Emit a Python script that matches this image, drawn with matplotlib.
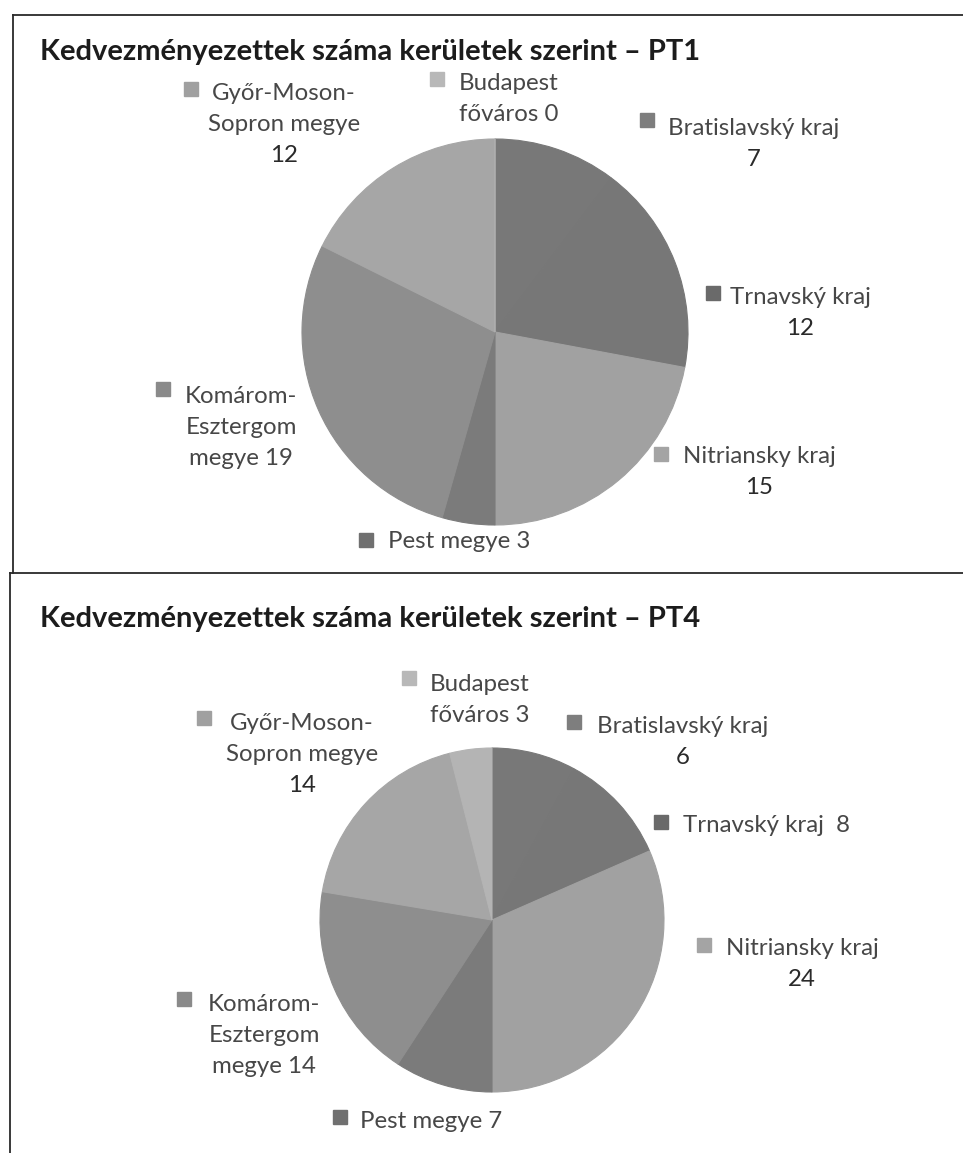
import matplotlib
matplotlib.use("Agg")
import matplotlib.pyplot as plt
from matplotlib.patches import Rectangle
from matplotlib.lines import Line2D

# data
regions = ["Bratislavský kraj", "Trnavský kraj", "Nitriansky kraj", "Pest megye",
           "Komárom-Esztergom megye", "Győr-Moson-Sopron megye", "Budapest főváros"]
pt1_values = [7, 12, 15, 3, 19, 12, 0]
pt4_values = [6, 8, 24, 7, 14, 14, 3]
titles = ["Kedvezményezettek száma kerületek szerint – PT1",
          "Kedvezményezettek száma kerületek szerint – PT4"]

slice_colors = ["#787878", "#777777", "#a1a1a1", "#7b7b7b", "#8e8e8e", "#a6a6a6", "#b4b4b4"]
key_colors = ["#7e7e7e", "#6a6a6a", "#a4a4a4", "#707070", "#8a8a8a", "#a0a0a0", "#b8b8b8"]

W, H = 963, 1153
plt.rcParams["font.family"] = ["Lato", "DejaVu Sans"]
fig = plt.figure(figsize=(W / 100, H / 100), dpi=100)


def fx(x):
    return x / W


def fy(y):
    return 1 - y / H


# label layout: (lines, square centre x, square centre y, text centre x, first baseline y)
layout1 = [
    (["Bratislavský kraj", "{}"], 647, 120, 754, 135),
    (["Trnavský kraj", "{}"], 713, 293, 800, 304),
    (["Nitriansky kraj", "{}"], 661, 454, 759, 463),
    (["Pest megye {}"], 366, 540, 459, 548),
    (["Komárom-", "Esztergom", "megye {}"], 163, 389, 241, 403),
    (["Győr-Moson-", "Sopron megye", "{}"], 191, 89, 284, 100),
    (["Budapest", "főváros {}"], 437, 79, 509, 90),
]
layout2 = [
    (["Bratislavský kraj", "{}"], 574, 722, 683, 733),
    (["Trnavský kraj  {}"], 661, 822, 766, 832),
    (["Nitriansky kraj", "{}"], 704, 945, 802, 955),
    (["Pest megye {}"], 340, 1117, 431, 1128),
    (["Komárom-", "Esztergom", "megye {}"], 184, 999, 264, 1011),
    (["Győr-Moson-", "Sopron megye", "{}"], 204, 718, 302, 730),
    (["Budapest", "főváros {}"], 409, 678, 480, 691),
]


def draw_chart(values, title, title_y, cx, cy, r, layout):
    fig.text(fx(40), fy(title_y), title, fontsize=21, fontweight="bold",
             color="#1c1c1c", va="baseline", ha="left")
    ax = fig.add_axes([fx(cx - r), fy(cy + r), 2 * r / W, 2 * r / H])
    wedges, _ = ax.pie(values, colors=slice_colors, startangle=90, counterclock=False,
                       radius=1, wedgeprops=dict(linewidth=0.8))
    # edge in the slice's own colour so adjacent slices join without a gap
    for w in wedges:
        w.set_edgecolor(w.get_facecolor())
    ax.set_xlim(-1, 1)
    ax.set_ylim(-1, 1)
    ax.set_aspect("equal")
    ax.axis("off")
    for (lines, sx, sy, tx, ty), val, kc in zip(layout, values, key_colors):
        fig.patches.append(Rectangle((fx(sx - 7), fy(sy + 7)), 14 / W, 14 / H,
                                     transform=fig.transFigure, color=kc))
        for i, line in enumerate(lines):
            col = "#2a2a2a" if line == "{}" else "#474747"
            fig.text(fx(tx), fy(ty + 31 * i), line.format(val), fontsize=17.3,
                     color=col, ha="center", va="baseline")


draw_chart(pt1_values, titles[0], 60, 495, 332, 193, layout1)
draw_chart(pt4_values, titles[1], 627, 492, 920, 172, layout2)

# scanned frame lines
for (x0, x1), (y0, y1) in [((13, 963), (15, 15)), ((13, 13), (15, 573)),
                           ((10, 963), (573, 573)), ((10, 10), (573, 1153))]:
    fig.lines.append(Line2D([fx(x0), fx(x1)], [fy(y0), fy(y1)],
                            transform=fig.transFigure, color="#2a2a2a", lw=1.3))

fig.savefig("out.png", dpi=100, facecolor="white")
